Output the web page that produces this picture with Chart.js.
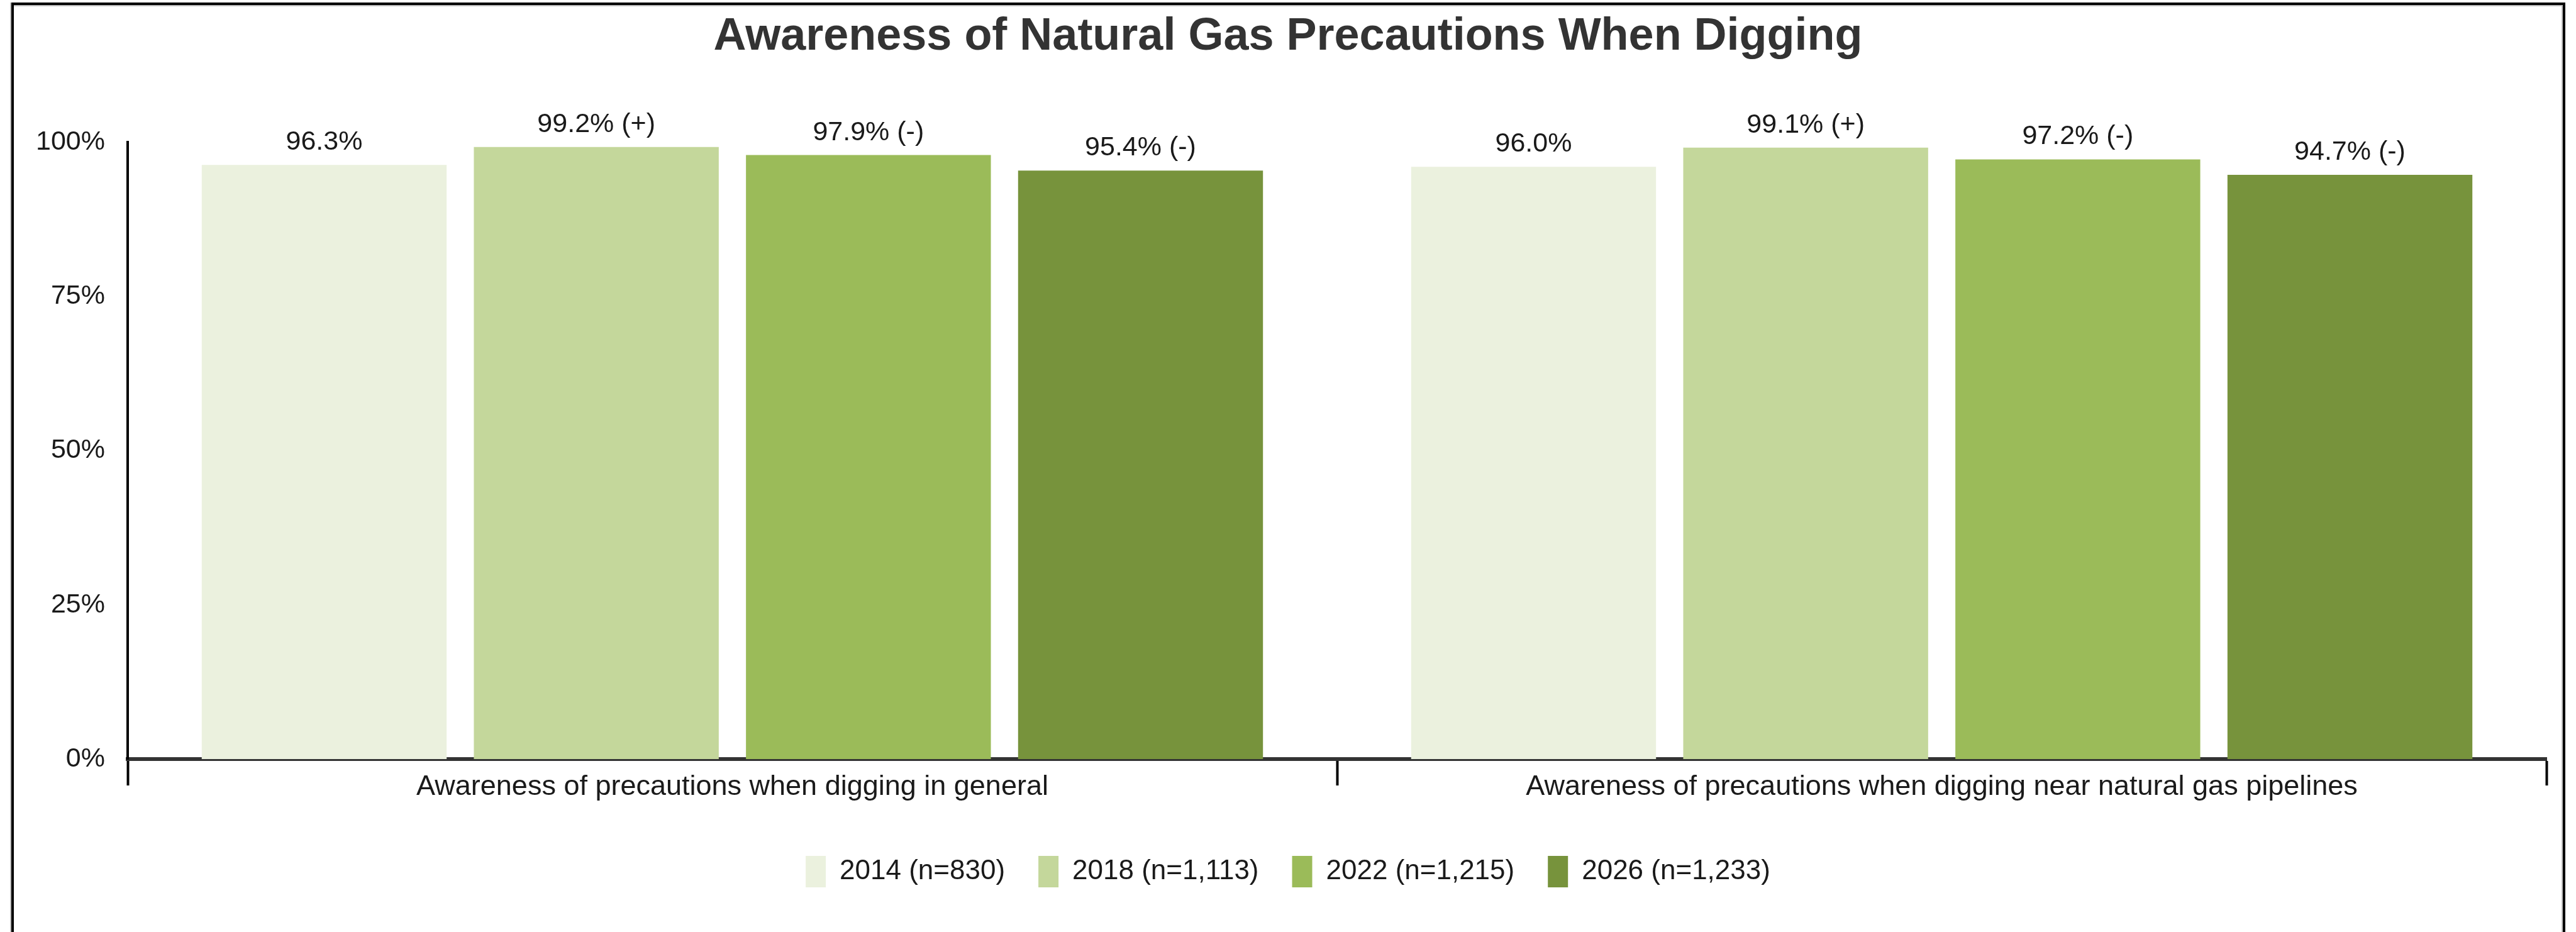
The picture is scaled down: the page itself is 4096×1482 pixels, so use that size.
<!DOCTYPE html>
<html lang="en">
<head>
    <meta charset="UTF-8">
    <title>Awareness of Natural Gas Precautions When Digging</title>
    <script src="https://cdn.jsdelivr.net/npm/chart.js"></script>
    <style>
        body {
            margin: 0;
            background: #fff;
            overflow: hidden;
            font-family: "Liberation Sans", Arial, sans-serif;
        }
        #wrap {
            position: relative;
            width: 4096px;
            height: 1482px;
        }
        #chart {
            position: absolute;
            left: 0;
            top: 0;
        }
        /* black frame with the light grey edge, open at the bottom */
        #frame {
            position: absolute;
            left: 18px;
            top: 4px;
            width: 4061px;
            height: 1500px;
            box-sizing: border-box;
            border: 4px solid #000;
            border-bottom: none;
            box-shadow: -2px 0 0 #c0c0c0, inset -2px 2px 0 #c0c0c0;
            pointer-events: none;
        }
    </style>
</head>
<body>
<div id="wrap">
    <canvas id="chart" width="4096" height="1482"></canvas>
    <div id="frame"></div>
</div>

<script>
    // chart data
    const categories = [
        "Awareness of precautions when digging in general",
        "Awareness of precautions when digging near natural gas pipelines"
    ];
    const seriesNames = ["2014 (n=830)", "2018 (n=1,113)", "2022 (n=1,215)", "2026 (n=1,233)"];
    const values2014 = [96.3, 96.0];
    const values2018 = [99.2, 99.1];
    const values2022 = [97.9, 97.2];
    const values2026 = [95.4, 94.7];
    // significance marks shown after the value
    const marks2014 = ["", ""];
    const marks2018 = ["(+)", "(+)"];
    const marks2022 = ["(-)", "(-)"];
    const marks2026 = ["(-)", "(-)"];
    const yMin = 0, yMax = 100, yStep = 25;

    const colors = ["#EBF1DE", "#C4D79B", "#9BBB59", "#77933C"];
    const FONT = "'Liberation Sans', Arial, sans-serif";
    const TEXT = "#1a1a1a";

    const seriesValues = [values2014, values2018, values2022, values2026];
    const seriesMarks = [marks2014, marks2018, marks2022, marks2026];

    // labels above each bar
    const barLabels = {
        id: "barLabels",
        afterDatasetsDraw(chart) {
            const ctx = chart.ctx;
            ctx.save();
            ctx.font = "43px " + FONT;
            ctx.fillStyle = TEXT;
            ctx.textAlign = "center";
            ctx.textBaseline = "alphabetic";
            chart.data.datasets.forEach((ds, di) => {
                const meta = chart.getDatasetMeta(di);
                meta.data.forEach((bar, i) => {
                    const mark = ds.marks[i];
                    const txt = ds.data[i].toFixed(1) + "%" + (mark ? " " + mark : "");
                    ctx.fillText(txt, bar.x, bar.y - 24);
                });
            });
            ctx.restore();
        }
    };

    const datasets = seriesNames.map((name, i) => ({
        label: name,
        data: seriesValues[i],
        marks: seriesMarks[i],
        backgroundColor: colors[i],
        borderWidth: 0,
        categoryPercentage: 0.9,
        barPercentage: 0.9
    }));

    new Chart(document.getElementById("chart"), {
        type: "bar",
        data: { labels: categories, datasets: datasets },
        plugins: [barLabels],
        options: {
            responsive: false,
            animation: false,
            devicePixelRatio: 1,
            layout: { padding: { left: 47, right: 47, top: 0, bottom: 61 } },
            plugins: {
                title: {
                    display: true,
                    text: "Awareness of Natural Gas Precautions When Digging",
                    color: "#333",
                    font: { family: FONT, size: 72, weight: "bold" },
                    padding: { top: 16, bottom: 123.6 }
                },
                legend: {
                    position: "bottom",
                    labels: {
                        color: TEXT,
                        font: { family: FONT, size: 44 },
                        boxWidth: 32,
                        boxHeight: 50,
                        padding: 53
                    }
                },
                tooltip: { enabled: false }
            },
            scales: {
                x: {
                    grid: {
                        display: true,
                        drawOnChartArea: false,
                        drawTicks: true,
                        tickLength: 42,
                        tickWidth: 4,
                        tickColor: "#000",
                        offset: true
                    },
                    border: { display: true, color: "#333", width: 6 },
                    ticks: {
                        color: TEXT,
                        font: { family: FONT, size: 45, lineHeight: 1.2 },
                        padding: -24,
                        maxRotation: 0,
                        autoSkip: false
                    },
                    afterFit: (s) => { s.height = 101; }
                },
                y: {
                    min: yMin,
                    max: yMax,
                    grid: { display: false, drawTicks: false },
                    border: { display: true, color: "#000", width: 4 },
                    ticks: {
                        stepSize: yStep,
                        color: TEXT,
                        font: { family: FONT, size: 43 },
                        padding: 36,
                        callback: (v) => v + "%"
                    },
                    afterFit: (s) => { s.width = 156; }
                }
            }
        }
    });
</script>
</body>
</html>
